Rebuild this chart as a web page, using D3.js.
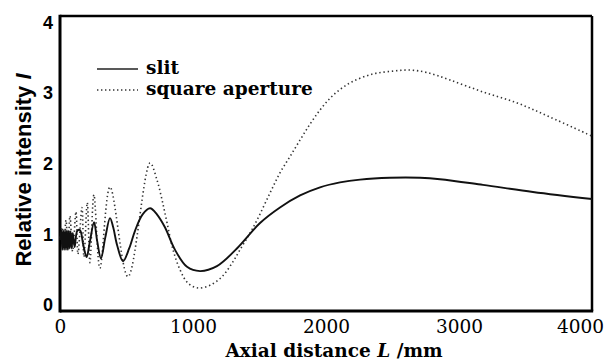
<!DOCTYPE html>
<html><head><meta charset="utf-8">
<script src="https://cdn.jsdelivr.net/npm/d3@7"></script>
<style>
html,body{margin:0;padding:0;background:#fff;}
svg{display:block;}
</style></head>
<body>
<svg id="chart" width="608" height="363"></svg>
<script>
// ---- data ----
const slitL = [0, 10, 17, 24, 31, 38, 45, 52, 59, 66, 73, 80, 88, 96, 110, 130, 150, 175, 200, 225, 256, 280, 308, 340, 376, 400, 429, 474, 520, 564, 620, 677, 730, 789, 865, 955, 1053, 1180, 1330, 1504, 1654, 1805, 1955, 2105, 2256, 2481, 2707, 2857, 3180, 3556, 4000];
const slitI = [0.92, 1.06, 0.78, 1.06, 0.78, 1.06, 0.78, 1.06, 0.78, 1.05, 0.80, 1.04, 0.80, 1.02, 0.82, 1.05, 1.06, 0.85, 0.68, 0.90, 1.17, 0.90, 0.66, 0.95, 1.23, 1.10, 0.85, 0.62, 0.80, 1.05, 1.28, 1.37, 1.28, 1.10, 0.78, 0.54, 0.48, 0.55, 0.80, 1.16, 1.38, 1.55, 1.665, 1.735, 1.775, 1.80, 1.80, 1.78, 1.70, 1.60, 1.50];
const squareL = [0, 15, 30, 45, 60, 75, 95, 120, 135, 165, 180, 205, 225, 255, 300, 376, 511, 677, 729, 767, 805, 850, 902, 962, 1038, 1128, 1218, 1293, 1353, 1429, 1481, 1579, 1654, 1729, 1805, 1880, 1955, 2030, 2105, 2203, 2353, 2504, 2632, 2759, 2932, 3180, 3436, 3684, 4000];
const squareI = [0.95, 1.10, 0.86, 1.20, 0.80, 1.26, 0.76, 1.32, 0.72, 1.38, 0.68, 1.45, 0.60, 1.56, 0.52, 1.67, 0.40, 2.01, 1.77, 1.49, 1.16, 0.78, 0.50, 0.31, 0.24, 0.28, 0.40, 0.59, 0.78, 1.02, 1.20, 1.585, 1.87, 2.10, 2.335, 2.56, 2.76, 2.925, 3.05, 3.165, 3.27, 3.31, 3.325, 3.29, 3.185, 3.015, 2.86, 2.66, 2.39];
const xTicks = [0, 1000, 2000, 3000, 4000];
const yTicks = [0, 1, 2, 3, 4];
const seriesNames = ["slit", "square aperture"];

// ---- layout ----
const svg = d3.select("#chart");
const m = {left: 60, right: 592, top: 16, bottom: 311};
const x = d3.scaleLinear().domain([0, 4000]).range([m.left, m.right]);
const y = d3.scaleLinear().domain([-0.085, 4.09]).range([m.bottom, m.top]);

const serifFont = "'DejaVu Serif', 'Liberation Serif', serif";
const sansFont = "'Liberation Sans', Arial, sans-serif";

// axes
const xAxis = d3.axisBottom(x).tickValues(xTicks).tickSize(0).tickPadding(9).tickFormat(d3.format("d"));
const gx = svg.append("g").attr("transform", `translate(0,${m.bottom})`).call(xAxis);
gx.select(".domain").remove();
gx.selectAll("text").attr("font-family", serifFont).attr("font-size", 18.5).attr("fill", "#000")
  .attr("x", d => d === 4000 ? -12 : 0);

const yAxis = d3.axisLeft(y).tickValues(yTicks).tickSize(0).tickPadding(7).tickFormat(d3.format("d"));
const gy = svg.append("g").attr("transform", `translate(${m.left},0)`).call(yAxis);
gy.select(".domain").remove();
gy.selectAll("text").attr("font-family", sansFont).attr("font-weight", "bold").attr("font-size", 18).attr("fill", "#000");

// frame
const frame = svg.append("g").attr("stroke", "#000").attr("fill", "none");
frame.append("line").attr("x1", m.left).attr("x2", m.right).attr("y1", m.top).attr("y2", m.top).attr("stroke-width", 2.5);
frame.append("line").attr("x1", m.right).attr("x2", m.right).attr("y1", m.top).attr("y2", m.bottom).attr("stroke-width", 2.5);
frame.append("line").attr("x1", m.left).attr("x2", m.left).attr("y1", m.top - 1.2).attr("y2", m.bottom + 1.5).attr("stroke-width", 3);
frame.append("line").attr("x1", m.left).attr("x2", m.right + 1.2).attr("y1", m.bottom).attr("y2", m.bottom).attr("stroke-width", 3);

// lines
const line = d3.line().x(d => x(d[0])).y(d => y(d[1])).curve(d3.curveCatmullRom.alpha(0.5));
const slitData = slitL.map((v, i) => [v, slitI[i]]);
const squareData = squareL.map((v, i) => [v, squareI[i]]);

svg.append("path").datum(squareData).attr("d", line)
  .attr("fill", "none").attr("stroke", "#333").attr("stroke-width", 1.6)
  .attr("stroke-dasharray", "1.4,2.8");
svg.append("path").datum(slitData).attr("d", line)
  .attr("fill", "none").attr("stroke", "#111").attr("stroke-width", 1.9);

// legend
const leg = svg.append("g");
leg.append("line").attr("x1", 97).attr("x2", 138).attr("y1", 69).attr("y2", 69)
  .attr("stroke", "#222").attr("stroke-width", 1.3);
leg.append("line").attr("x1", 97).attr("x2", 138).attr("y1", 90).attr("y2", 90)
  .attr("stroke", "#333").attr("stroke-width", 1.4).attr("stroke-dasharray", "1.4,2.6");
leg.selectAll("text.lg").data(seriesNames).enter().append("text")
  .attr("x", 146).attr("y", (d, i) => 74 + i * 21)
  .attr("font-family", serifFont).attr("font-weight", "bold").attr("font-size", 18.5)
  .attr("fill", "#000").text(d => d);

// axis titles
const xt = svg.append("text").attr("x", 334).attr("y", 357).attr("text-anchor", "middle")
  .attr("font-family", serifFont).attr("font-weight", "bold").attr("font-size", 18.5).attr("fill", "#000");
xt.append("tspan").text("Axial distance ");
xt.append("tspan").attr("font-style", "italic").text("L");
xt.append("tspan").text(" /mm");

const yt = svg.append("text").attr("transform", "translate(31,170) rotate(-90)").attr("text-anchor", "middle")
  .attr("font-family", sansFont).attr("font-weight", "bold").attr("font-size", 22).attr("fill", "#000");
yt.append("tspan").text("Relative intensity ");
yt.append("tspan").attr("font-style", "italic").text("I");
</script>
</body></html>
